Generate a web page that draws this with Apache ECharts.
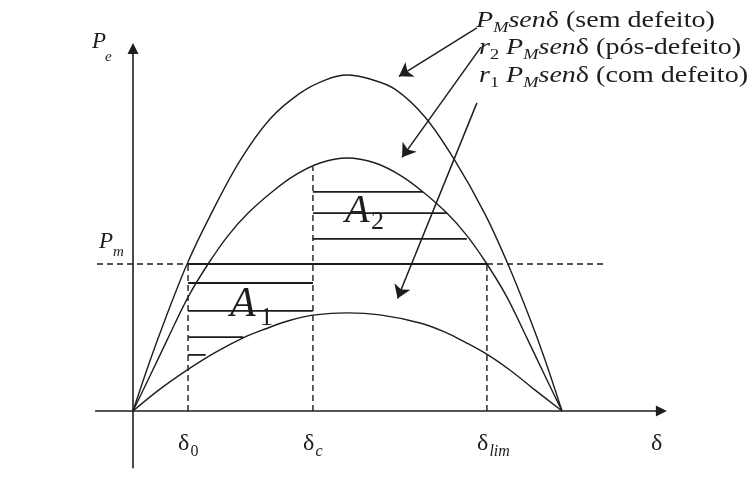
<!DOCTYPE html>
<html><head><meta charset="utf-8">
<script src="https://cdn.jsdelivr.net/npm/echarts@6/dist/echarts.min.js"></script>
<style>html,body{margin:0;padding:0;background:#fff}#c{width:752px;height:485px}</style>
</head><body><div id="c"></div>
<script>
// ---------- data (δ in degrees, power in units of P_M) ----------
const bigX = [0, 7.1, 13.4, 22.7, 32.3, 44.9, 57.5, 70.1, 80.6, 89.8, 99.4, 109.9, 122.5, 135.1, 147.7, 157.3, 166.6, 172.9, 180];
const bigY = [0, 0.149, 0.271, 0.4375, 0.580, 0.745, 0.869, 0.946, 0.985, 1.0, 0.988, 0.958, 0.875, 0.745, 0.586, 0.4375, 0.274, 0.152, 0];
const r2X = [0, 7.1, 14.7, 23.1, 31.5, 39.9, 48.3, 58.3, 68.0, 78.5, 89.8, 101.6, 112.0, 121.7, 131.7, 140.1, 148.5, 156.9, 165.3, 172.9, 180];
const r2Y = [0, 0.104, 0.217, 0.339, 0.4375, 0.522, 0.589, 0.652, 0.702, 0.738, 0.753, 0.738, 0.702, 0.652, 0.589, 0.522, 0.4375, 0.339, 0.217, 0.104, 0];
const r1X = [0, 11.3, 23.1, 34.4, 46.2, 55.4, 66.0, 76.5, 89.8, 103.6, 120.4, 130.9, 139.3, 148.9, 158.1, 168.6, 180];
const r1Y = [0, 0.065, 0.124, 0.174, 0.218, 0.244, 0.270, 0.286, 0.292, 0.286, 0.262, 0.235, 0.205, 0.167, 0.122, 0.063, 0];
const Pm = 0.4375;
const deltaTicks = [23.1, 75.5, 148.5];
const deltaSubs = ['0', 'c', 'lim'];
const deltaCTop = 0.728;
const deltaAxisLabel = 'δ';
const deltaAxisLabelAt = 220.3;
const a1Levels = [0.381, 0.298, 0.220, 0.167];
const a1Ends = [75.5, 75.5, 46.2, 30.5];
const a2Levels = [0.652, 0.589, 0.512];
const a2Ends = [121.7, 131.7, 140.1];
const pmLineSpan = [-15.1, 198];
const xAxisSpan = [-15.9, 221.7];
const yAxisSpan = [-0.17, 1.079];
const legendRatio = ['', '2', '1'];
const legendCase = ['sem defeito', 'pós-defeito', 'com defeito'];
// annotation arrows: [from, to] in data coords
const arrowFrom = [[144.3, 1.140], [146.0, 1.083], [144.3, 0.917]];
const arrowTo = [[111.6, 0.996], [112.9, 0.755], [111.0, 0.335]];

// ---------- chart ----------
const INK = '#1d1d1d';
const SERIF = 'Liberation Serif';
const chart = echarts.init(document.getElementById('c'), null, {renderer: 'canvas'});
const pairs = (xs, ys) => xs.map((x, i) => [x, ys[i]]);
const lineS = (data, opts) => Object.assign({
  type: 'line', data, showSymbol: false, symbol: 'none', silent: true, animation: false, clip: false,
  lineStyle: {color: INK, width: 1.4}
}, opts || {});
const dashed = {color: INK, width: 1.4, type: [6, 4]};
const hatch = {color: INK, width: 1.8};

const series = [
  lineS(pairs(bigX, bigY), {smooth: 0.35, markLine: {
    silent: true, animation: false, symbol: ['none', 'triangle'], symbolSize: 11,
    label: {show: false}, lineStyle: {color: INK, width: 1.6, type: 'solid'},
    data: [
      [{coord: [xAxisSpan[0], 0]}, {coord: [xAxisSpan[1], 0]}],
      [{coord: [0, yAxisSpan[0]]}, {coord: [0, yAxisSpan[1]]}]
    ]}}),
  lineS(pairs(r2X, r2Y), {smooth: 0.35}),
  lineS(pairs(r1X, r1Y), {smooth: 0.35, markLine: {
    silent: true, animation: false, symbol: ['none', 'arrow'], symbolSize: 13,
    label: {show: false}, lineStyle: {color: INK, width: 1.5, type: 'solid'},
    data: arrowFrom.map((f, i) => [{coord: f}, {coord: arrowTo[i]}])}}),
  lineS([[pmLineSpan[0], Pm], [pmLineSpan[1], Pm]], {lineStyle: dashed}),
  lineS([[deltaTicks[0], Pm], [deltaTicks[2], Pm]], {lineStyle: hatch}),
  lineS([[deltaTicks[0], 0], [deltaTicks[0], Pm]], {lineStyle: dashed}),
  lineS([[deltaTicks[1], 0], [deltaTicks[1], deltaCTop]], {lineStyle: dashed}),
  lineS([[deltaTicks[2], 0], [deltaTicks[2], Pm]], {lineStyle: dashed})
];
a1Levels.forEach((v, i) => series.push(lineS([[deltaTicks[0], v], [a1Ends[i], v]], {lineStyle: hatch})));
a2Levels.forEach((v, i) => series.push(lineS([[deltaTicks[1], v], [a2Ends[i], v]], {lineStyle: hatch})));

chart.setOption({
  animation: false,
  backgroundColor: '#fff',
  grid: {left: 0, right: 0, top: 0, bottom: 0},
  xAxis: {type: 'value', min: -55.80, max: 259.72, show: false},
  yAxis: {type: 'value', min: -0.2202, max: 1.2232, show: false},
  series
});

// ---------- texts ----------
const px = (x, y) => chart.convertToPixel({gridIndex: 0}, [x, y]);
const txt = (x, y, text, size, italic, extra) => Object.assign({
  type: 'text', x, y, silent: true,
  style: {text, fill: INK, fontSize: size, fontFamily: SERIF, fontStyle: italic ? 'italic' : 'normal',
          align: 'left', verticalAlign: 'middle'}
}, extra || {});
const g = [];
deltaTicks.forEach((d, i) => {
  const p = px(d, 0);
  g.push(txt(p[0] - 10, 444, 'δ', 24, false));
  g.push(txt(p[0] + 2.5, 452, deltaSubs[i], 16, deltaSubs[i] !== '0'));
});
g.push(txt(px(deltaAxisLabelAt, 0)[0] - 7, 444, deltaAxisLabel, 24, false));
g.push(txt(92, 42, 'P', 23, true));
g.push(txt(105, 57, 'e', 15, true));
g.push(txt(99, 242, 'P', 23, true));
g.push(txt(113, 252, 'm', 15, true));
g.push(txt(230, 305, 'A', 42, true));
g.push(txt(260, 318, '1', 26, false));
g.push(txt(345, 211, 'A', 40, true));
g.push(txt(371, 222, '2', 26, false));
const rich = {
  i: {fontFamily: SERIF, fontStyle: 'italic', fontSize: 23, lineHeight: 30, verticalAlign: 'middle', color: INK},
  n: {fontFamily: SERIF, fontSize: 23, lineHeight: 30, verticalAlign: 'middle', color: INK},
  s: {fontFamily: SERIF, fontStyle: 'italic', fontSize: 15, lineHeight: 30, verticalAlign: 'bottom', color: INK},
  d: {fontFamily: SERIF, fontSize: 15, lineHeight: 30, verticalAlign: 'bottom', color: INK}
};
const legendY = [21, 48, 76];
const legendX = [476, 479, 479];
legendCase.forEach((c, i) => {
  const head = legendRatio[i] ? '{i|r}{d|' + legendRatio[i] + '}{n| }' : '';
  g.push({type: 'text', x: legendX[i], y: legendY[i], scaleX: 1.22, silent: true,
    style: {text: head + '{i|P}{s|M}{i|sen}{n|δ (' + c + ')}', rich, fill: INK,
            fontFamily: SERIF, fontSize: 23, align: 'left', verticalAlign: 'middle'}});
});
chart.setOption({graphic: {elements: g}});
</script></body></html>
